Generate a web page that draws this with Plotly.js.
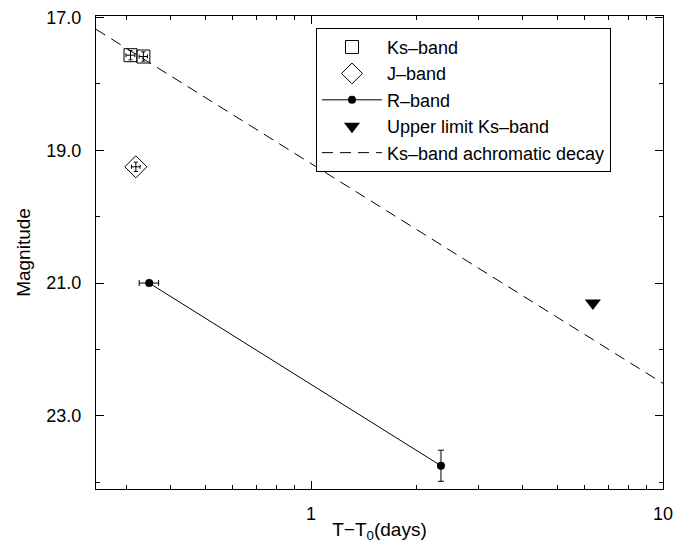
<!DOCTYPE html>
<html>
<head>
<meta charset="utf-8">
<script src="https://cdn.plot.ly/plotly-3.0.1.min.js"></script>
<style>html,body{margin:0;padding:0;background:#fff;}#plot{width:674px;height:543px;}</style>
</head>
<body>
<div id="plot"></div>
<script>
// Data
const ksDays = [0.307, 0.334];
const ksMag = [17.57, 17.59];
const ksErrMag = [0.07, 0.07];
const ksErrDays = [0.009, 0.009];

const jDays = [0.318];
const jMag = [19.25];
const jErrMag = [0.07];
const jErrDays = [0.009];

const rDays = [0.347, 2.34];
const rMag = [21.0, 23.75];
const rErrMag = [0.0, 0.234];
const rErrDays = [0.022, 0.0];

const ulDays = [6.32];
const ulMag = [21.3];

const decayDays = [0.245, 10];
const decayMag = [17.18, 22.51];

const yTickVals = [17, 19, 21, 23];
const yTickText = ['17.0', '19.0', '21.0', '23.0'];
const yMinorVals = [18, 20, 22, 24];
const xTickVals = [1, 10];
const xTickText = ['1', '10'];
const xMinorVals = [0.3, 0.4, 0.5, 0.6, 0.7, 0.8, 0.9, 2, 3, 4, 5, 6, 7, 8, 9];

const FONT = 'Liberation Sans, Arial, sans-serif';

const traces = [
  {
    x: ksDays, y: ksMag, name: 'Ks–band', type: 'scatter', mode: 'markers',
    marker: {symbol: 'square-open', size: 13, color: 'black', line: {width: 1, color: 'black'}},
    error_y: {type: 'data', array: ksErrMag, visible: true, color: 'black', thickness: 1, width: 2},
    error_x: {type: 'data', array: ksErrDays, visible: true, color: 'black', thickness: 1, width: 2}
  },
  {
    x: jDays, y: jMag, name: 'J–band', type: 'scatter', mode: 'markers',
    marker: {symbol: 'diamond-open', size: 17, color: 'black', line: {width: 1, color: 'black'}},
    error_y: {type: 'data', array: jErrMag, visible: true, color: 'black', thickness: 1, width: 2},
    error_x: {type: 'data', array: jErrDays, visible: true, color: 'black', thickness: 1, width: 2}
  },
  {
    x: rDays, y: rMag, name: 'R–band', type: 'scatter', mode: 'lines+markers',
    line: {color: 'black', width: 1},
    marker: {symbol: 'circle', size: 8, color: 'black'},
    error_y: {type: 'data', array: rErrMag, visible: true, color: 'black', thickness: 1, width: 3},
    error_x: {type: 'data', array: rErrDays, visible: true, color: 'black', thickness: 1, width: 3}
  },
  {
    x: ulDays, y: ulMag, name: 'Upper limit Ks–band', type: 'scatter', mode: 'markers',
    marker: {symbol: 'triangle-down', size: 14, color: 'black'}
  },
  {
    x: decayDays, y: decayMag, name: 'Ks–band achromatic decay', type: 'scatter', mode: 'lines',
    line: {color: 'black', width: 1, dash: '11px,7px'}
  }
];

const layout = {
  width: 674, height: 543,
  margin: {l: 96, r: 11, t: 16, b: 54},
  paper_bgcolor: 'white', plot_bgcolor: 'white',
  font: {family: FONT, color: 'black', size: 18},
  showlegend: true,
  legend: {
    x: 0.388, y: 0.975, xanchor: 'left', yanchor: 'top',
    bordercolor: 'black', borderwidth: 1, bgcolor: 'white',
    font: {family: FONT, size: 18, color: 'black'},
    itemwidth: 60, tracegroupgap: 0
  },
  xaxis: {
    type: 'log', range: [Math.log10(0.245), 1.0],
    tickmode: 'array', tickvals: xTickVals, ticktext: xTickText,
    ticks: 'inside', ticklen: 8, tickwidth: 1, tickcolor: 'black',
    minor: {tickmode: 'array', tickvals: xMinorVals, ticks: 'inside', ticklen: 4, tickwidth: 1, tickcolor: 'black'},
    showline: true, linecolor: 'black', linewidth: 1, mirror: 'ticks',
    showgrid: false, zeroline: false,
    tickfont: {family: FONT, size: 18},
    ticklabelstandoff: 8,
    title: {text: 'T−T<sub>0</sub>(days)', font: {family: FONT, size: 19}, standoff: 8}
  },
  yaxis: {
    range: [24.1, 16.98],
    tickmode: 'array', tickvals: yTickVals, ticktext: yTickText,
    ticks: 'inside', ticklen: 8, tickwidth: 1, tickcolor: 'black',
    minor: {tickmode: 'array', tickvals: yMinorVals, ticks: 'inside', ticklen: 4, tickwidth: 1, tickcolor: 'black'},
    showline: true, linecolor: 'black', linewidth: 1, mirror: 'ticks',
    showgrid: false, zeroline: false,
    tickfont: {family: FONT, size: 18},
    ticklabelstandoff: 10,
    title: {text: 'Magnitude', font: {family: FONT, size: 19}, standoff: 10}
  }
};

Plotly.newPlot('plot', traces, layout, {displayModeBar: false, staticPlot: true});
</script>
</body>
</html>
